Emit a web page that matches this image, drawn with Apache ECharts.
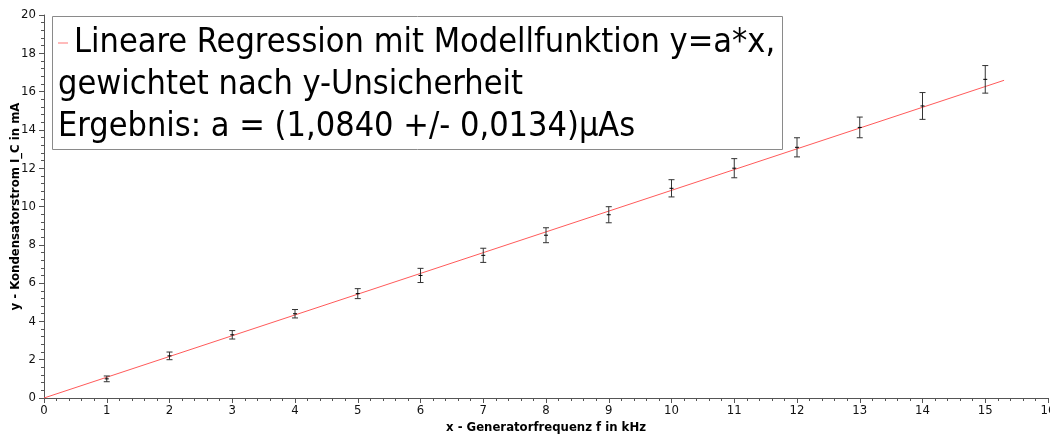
<!DOCTYPE html>
<html>
<head>
<meta charset="utf-8">
<script src="https://cdn.jsdelivr.net/npm/echarts@6/dist/echarts.min.js"></script>
<style>
  html, body { margin: 0; padding: 0; background: #fff; }
  #chart { width: 1050px; height: 434px; }
</style>
</head>
<body>
<div id="chart"></div>
<script>
// Messwerte: Frequenz (kHz), Strom (mA), Unsicherheit (mA)
const freq = [1, 2, 3, 4, 5, 6, 7, 8, 9, 10, 11, 12, 13, 14, 15];
const current = [1.0, 2.2, 3.3, 4.4, 5.45, 6.4, 7.45, 8.5, 9.57, 10.95, 12.0, 13.09, 14.13, 15.25, 16.64];
const currentErr = [0.15, 0.2, 0.22, 0.22, 0.26, 0.37, 0.37, 0.39, 0.42, 0.45, 0.5, 0.5, 0.54, 0.7, 0.72];

// Regressionsgerade y = a*x
const fitX = [0, 15.3];
const fitY = [0, 16.59];

const legendLines = [
  "Lineare Regression mit Modellfunktion y=a*x,",
  "gewichtet nach y-Unsicherheit",
  "Ergebnis: a = (1,0840 +/- 0,0134)\u00b5As",
];

const FONT = "DejaVu Sans Condensed";

const chart = echarts.init(document.getElementById("chart"));

const errData = freq.map((x, i) => [x, current[i], currentErr[i]]);
const fitData = fitX.map((x, i) => [x, fitY[i]]);

function renderErrorBar(params, api) {
  const x = api.value(0);
  const y = api.value(1);
  const e = api.value(2);
  const top = api.coord([x, y + e]);
  const bot = api.coord([x, y - e]);
  const mid = api.coord([x, y]);
  const cap = 3;
  const style = { stroke: "#333", lineWidth: 1 };
  return {
    type: "group",
    children: [
      { type: "line", shape: { x1: top[0], y1: top[1], x2: bot[0], y2: bot[1] }, style },
      { type: "line", shape: { x1: top[0] - cap, y1: top[1], x2: top[0] + cap, y2: top[1] }, style },
      { type: "line", shape: { x1: bot[0] - cap, y1: bot[1], x2: bot[0] + cap, y2: bot[1] }, style },
      { type: "line", shape: { x1: mid[0] - 2, y1: mid[1], x2: mid[0] + 2, y2: mid[1] }, style: { stroke: "#000", lineWidth: 1 } },
    ],
  };
}

const option = {
  animation: false,
  backgroundColor: "#fff",
  title: {
    left: 52,
    top: 12,
    padding: [10, 8, 6, 6],
    borderColor: "#8a8a8a",
    borderWidth: 1,
    text:
      "{ic|}{gap|}{t|" + legendLines[0] + "}\n{t|" + legendLines[1] + "}\n{t|" + legendLines[2] + "}",
    textStyle: {
      rich: {
        ic: { width: 10, height: 1, backgroundColor: "#ff7777" },
        gap: { width: 6 },
        t: { fontFamily: FONT, fontSize: 34, color: "#000", lineHeight: 42, fontWeight: "normal" },
      },
    },
  },
  grid: {
    left: 44,
    right: 2,
    top: 15,
    bottom: 36,
    outerBoundsMode: "none",
  },
  xAxis: {
    type: "value",
    min: 0,
    max: 16,
    interval: 1,
    name: "x - Generatorfrequenz f in kHz",
    nameLocation: "middle",
    nameGap: 23,
    nameMoveOverlap: false,
    nameTextStyle: { fontFamily: FONT, fontSize: 13, fontWeight: "bold", color: "#000" },
    axisLine: { lineStyle: { color: "#555", width: 1 } },
    axisTick: { show: true, length: 5, lineStyle: { color: "#555" } },
    minorTick: { show: true, splitNumber: 5, length: 3, lineStyle: { color: "#555" } },
    axisLabel: { fontFamily: FONT, fontSize: 13, color: "#111", margin: 6 },
    splitLine: { show: false },
  },
  yAxis: {
    type: "value",
    min: 0,
    max: 20,
    interval: 2,
    name: "y - Kondensatorstrom I_C in mA",
    nameLocation: "middle",
    nameGap: 22,
    nameMoveOverlap: false,
    nameTextStyle: { fontFamily: FONT, fontSize: 13, fontWeight: "bold", color: "#000" },
    axisLine: { show: true, lineStyle: { color: "#555", width: 1 } },
    axisTick: { show: true, length: 5, lineStyle: { color: "#555" } },
    minorTick: { show: true, splitNumber: 5, length: 3, lineStyle: { color: "#555" } },
    axisLabel: { fontFamily: FONT, fontSize: 13, color: "#111", margin: 8 },
    splitLine: { show: false },
  },
  series: [
    {
      name: legendLines[0],
      type: "line",
      data: fitData,
      symbol: "none",
      lineStyle: { color: "#ff5a5a", width: 1 },
      z: 2,
    },
    {
      name: "Messwerte",
      type: "custom",
      data: errData,
      renderItem: renderErrorBar,
      z: 3,
    },
  ],
};

chart.setOption(option);
</script>
</body>
</html>
